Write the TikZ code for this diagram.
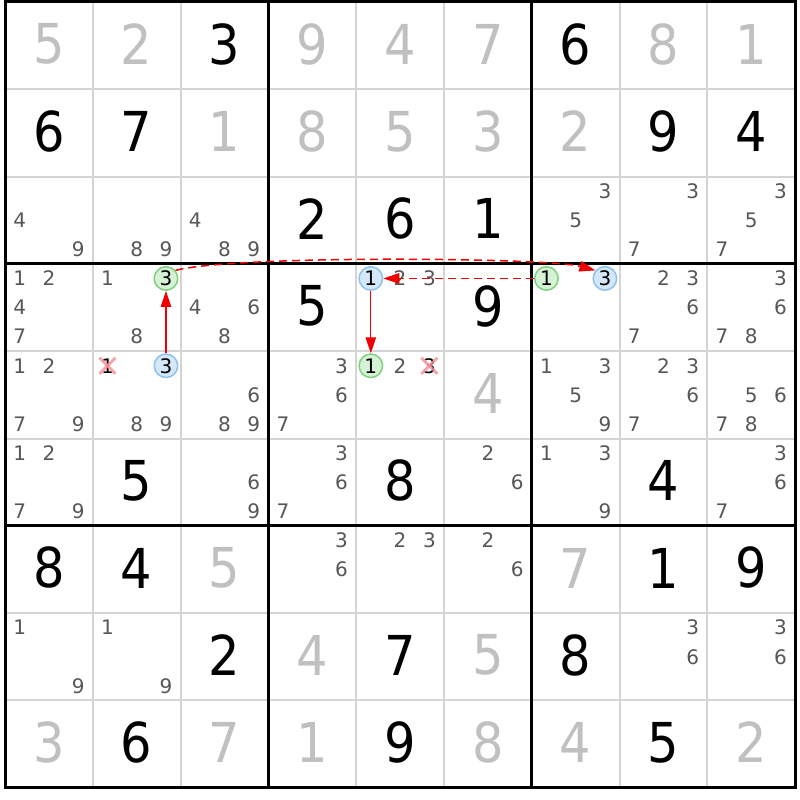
\documentclass[tikz,border=0pt]{standalone}
\usepackage{fontspec}
\usetikzlibrary{arrows.meta}
\newfontfamily\digfont{DejaVuSansCondensed.ttf}
\newfontfamily\candfont{DejaVu Sans}
\definecolor{solvedgray}{HTML}{C0C0C0}
\definecolor{candgray}{HTML}{575757}
\definecolor{gridgray}{HTML}{D4D4D4}
\definecolor{greenfill}{HTML}{D6F2D6}
\definecolor{greenline}{HTML}{80D080}
\definecolor{bluefill}{HTML}{D4E8FA}
\definecolor{blueline}{HTML}{8EC2F2}
\definecolor{crosscol}{HTML}{F29098}
\definecolor{linkred}{HTML}{F00000}
\tikzset{
  given/.style={font=\digfont\fontsize{55}{55}\selectfont, text=black, inner sep=0pt, yshift=1.5pt},
  solved/.style={given, text=solvedgray},
  cand/.style={font=\candfont\fontsize{20}{20}\selectfont, text=candgray, inner sep=0pt},
  hlgreen/.style={circle, draw=greenline, fill=greenfill, line width=1.5pt, minimum size=23.5pt, inner sep=0pt, font=\candfont\fontsize{20}{20}\selectfont, text=black},
  hlblue/.style={hlgreen, draw=blueline, fill=bluefill},
  xcand/.style={cand, text=black},
  xmark/.style={draw=crosscol, line width=3pt, opacity=0.8},
  thingrid/.style={draw=gridgray, line width=2pt},
  thickgrid/.style={draw=black, line width=3pt},
  link/.style={draw=linkred, line width=1.2pt, -{Triangle[length=16pt,width=10.5pt]}},
  dlink/.style={link, line width=1.5pt, dash pattern=on 8pt off 5pt},
}
\newcommand\givn[3]{\node[given] (g#1#2) at (#1+0.5,#2+0.5) {#3};}
\newcommand\solv[3]{\node[solved] (s#1#2) at (#1+0.5,#2+0.5) {#3};}
\newcommand\cands[3]{\foreach \d in {#3}{%
  \pgfmathsetmacro\px{#1+(mod(\d-1,3)+0.5)/3}%
  \pgfmathsetmacro\py{#2+(floor((\d-1)/3)+0.5)/3}%
  \node[cand] (k#1#2\d) at (\px,\py) {\d};}}
\newcommand\hlc[5]{%
  \pgfmathsetmacro\px{#3+(mod(#5-1,3)+0.5)/3}%
  \pgfmathsetmacro\py{#4+(floor((#5-1)/3)+0.5)/3}%
  \node[#1] (#2) at (\px,\py) {#5};}
\newcommand\xc[3]{%
  \pgfmathsetmacro\px{#1+(mod(#3-1,3)+0.5)/3}%
  \pgfmathsetmacro\py{#2+(floor((#3-1)/3)+0.5)/3}%
  \node[xcand] (x#1#2#3) at (\px,\py) {#3};
  \draw[xmark] ([shift={(-8pt,-8pt)}]x#1#2#3.center) -- ([shift={(8pt,8pt)}]x#1#2#3.center);
  \draw[xmark] ([shift={(-8pt,8pt)}]x#1#2#3.center) -- ([shift={(8pt,-8pt)}]x#1#2#3.center);}
\begin{document}
\begin{tikzpicture}
\useasboundingbox (0pt,0pt) rectangle (800pt,-800pt);
\fill[white] (0pt,0pt) rectangle (800pt,-800pt);
\begin{scope}[shift={(5pt,-2pt)}, x=87.8pt, y=-87.3pt]
% grid
\foreach \i in {1,2,4,5,7,8} {
  \draw[thingrid] (\i,0) -- (\i,9);
  \draw[thingrid] (0,\i) -- (9,\i);
}
\foreach \i in {3,6} {
  \draw[thickgrid] (\i,0) -- (\i,9);
  \draw[thickgrid] (0,\i) -- (9,\i);
}
\draw[thickgrid] (0,0) rectangle (9,9);
% row 1
\solv{0}{0}{5}\solv{1}{0}{2}\givn{2}{0}{3}\solv{3}{0}{9}\solv{4}{0}{4}\solv{5}{0}{7}\givn{6}{0}{6}\solv{7}{0}{8}\solv{8}{0}{1}
% row 2
\givn{0}{1}{6}\givn{1}{1}{7}\solv{2}{1}{1}\solv{3}{1}{8}\solv{4}{1}{5}\solv{5}{1}{3}\solv{6}{1}{2}\givn{7}{1}{9}\givn{8}{1}{4}
% row 3
\cands{0}{2}{4,9}\cands{1}{2}{8,9}\cands{2}{2}{4,8,9}\givn{3}{2}{2}\givn{4}{2}{6}\givn{5}{2}{1}\cands{6}{2}{3,5}\cands{7}{2}{3,7}\cands{8}{2}{3,5,7}
% row 4
\cands{0}{3}{1,2,4,7}\cands{1}{3}{1,8}\hlc{hlgreen}{gA}{1}{3}{3}\cands{2}{3}{4,6,8}\givn{3}{3}{5}
\cands{4}{3}{2,3}\hlc{hlblue}{bB}{4}{3}{1}\givn{5}{3}{9}
\hlc{hlgreen}{gC}{6}{3}{1}\hlc{hlblue}{bD}{6}{3}{3}\cands{7}{3}{2,3,6,7}\cands{8}{3}{3,6,7,8}
% row 5
\cands{0}{4}{1,2,7,9}\cands{1}{4}{8,9}\xc{1}{4}{1}\hlc{hlblue}{bA}{1}{4}{3}\cands{2}{4}{6,8,9}
\cands{3}{4}{3,6,7}\hlc{hlgreen}{gB}{4}{4}{1}\cands{4}{4}{2}\xc{4}{4}{3}\solv{5}{4}{4}
\cands{6}{4}{1,3,5,9}\cands{7}{4}{2,3,6,7}\cands{8}{4}{5,6,7,8}
% row 6
\cands{0}{5}{1,2,7,9}\givn{1}{5}{5}\cands{2}{5}{6,9}\cands{3}{5}{3,6,7}\givn{4}{5}{8}\cands{5}{5}{2,6}\cands{6}{5}{1,3,9}\givn{7}{5}{4}\cands{8}{5}{3,6,7}
% row 7
\givn{0}{6}{8}\givn{1}{6}{4}\solv{2}{6}{5}\cands{3}{6}{3,6}\cands{4}{6}{2,3}\cands{5}{6}{2,6}\solv{6}{6}{7}\givn{7}{6}{1}\givn{8}{6}{9}
% row 8
\cands{0}{7}{1,9}\cands{1}{7}{1,9}\givn{2}{7}{2}\solv{3}{7}{4}\givn{4}{7}{7}\solv{5}{7}{5}\givn{6}{7}{8}\cands{7}{7}{3,6}\cands{8}{7}{3,6}
% row 9
\solv{0}{8}{3}\givn{1}{8}{6}\solv{2}{8}{7}\solv{3}{8}{1}\givn{4}{8}{9}\solv{5}{8}{8}\solv{6}{8}{4}\givn{7}{8}{5}\solv{8}{8}{2}
% links
\draw[link] (bA) -- (gA);
\draw[dlink] (gA.40) .. controls +(15:60pt) and +(165:50pt) .. (bD.140);
\draw[dlink] (gC) -- (bB);
\draw[link] (bB) -- (gB);
\end{scope}
\end{tikzpicture}
\end{document}
